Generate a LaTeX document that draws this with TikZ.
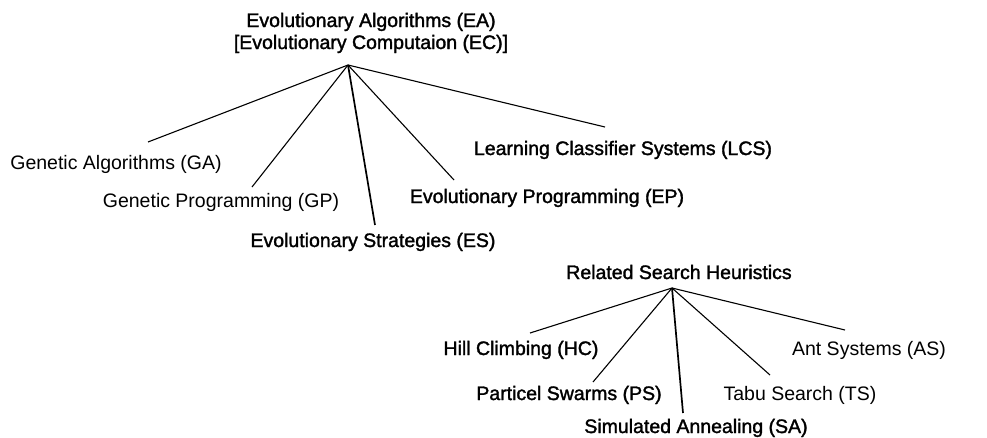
\documentclass[tikz,border=0pt]{standalone}
\usepackage{fontspec}
\setmainfont{Liberation Sans}
\newfontface\heavyface{Liberation Sans}[FakeBold=1.6]

\begin{document}
\begin{tikzpicture}[
  x=1pt, y=-1pt,
  font=\fontsize{19.5}{22}\selectfont,
  term/.style={anchor=base, inner sep=0pt},
  heavy/.style={term, font=\fontsize{19.5}{22}\selectfont\heavyface},
  branch/.style={line width=1.1pt},
  trunk/.style={line width=1.7pt}
]
\useasboundingbox (0,0) rectangle (987,437);
% evolutionary algorithms
\node[heavy, align=center] (ea) at (371,49) {Evolutionary Algorithms (EA)\\{}[Evolutionary Computaion (EC)]};
\coordinate (eatop) at (348,65);
\node[term] (ga) at (116,169) {Genetic Algorithms (GA)};
\node[term] (gp) at (221,207) {Genetic Programming (GP)};
\node[heavy] (es) at (373,247) {Evolutionary Strategies (ES)};
\node[heavy] (ep) at (547,203) {Evolutionary Programming (EP)};
\node[heavy] (lcs) at (623,155) {Learning Classifier Systems (LCS)};
\coordinate (gaend) at (148,142);
\coordinate (gpend) at (252,187);
\coordinate (esend) at (375,225);
\coordinate (epend) at (454,180);
\coordinate (lcsend) at (605,127);
\draw[branch] (eatop) -- (gaend);
\draw[branch] (eatop) -- (gpend);
\draw[trunk] (eatop) -- (esend);
\draw[branch] (eatop) -- (epend);
\draw[branch] (eatop) -- (lcsend);
% related search heuristics
\node[heavy] (rsh) at (679,279) {Related Search Heuristics};
\coordinate (rshtop) at (672,288);
\node[heavy] (hc) at (521,355) {Hill Climbing (HC)};
\node[heavy] (ps) at (569,400) {Particel Swarms (PS)};
\node[heavy] (sa) at (696,433) {Simulated Annealing (SA)};
\node[term] (ts) at (800,400) {Tabu Search (TS)};
\node[term] (as) at (869,355) {Ant Systems (AS)};
\coordinate (hcend) at (530,333);
\coordinate (psend) at (593,382);
\coordinate (saend) at (683,413);
\coordinate (tsend) at (770,375);
\coordinate (asend) at (845,330);
\draw[branch] (rshtop) -- (hcend);
\draw[branch] (rshtop) -- (psend);
\draw[trunk] (rshtop) -- (saend);
\draw[branch] (rshtop) -- (tsend);
\draw[branch] (rshtop) -- (asend);
\end{tikzpicture}
\end{document}
